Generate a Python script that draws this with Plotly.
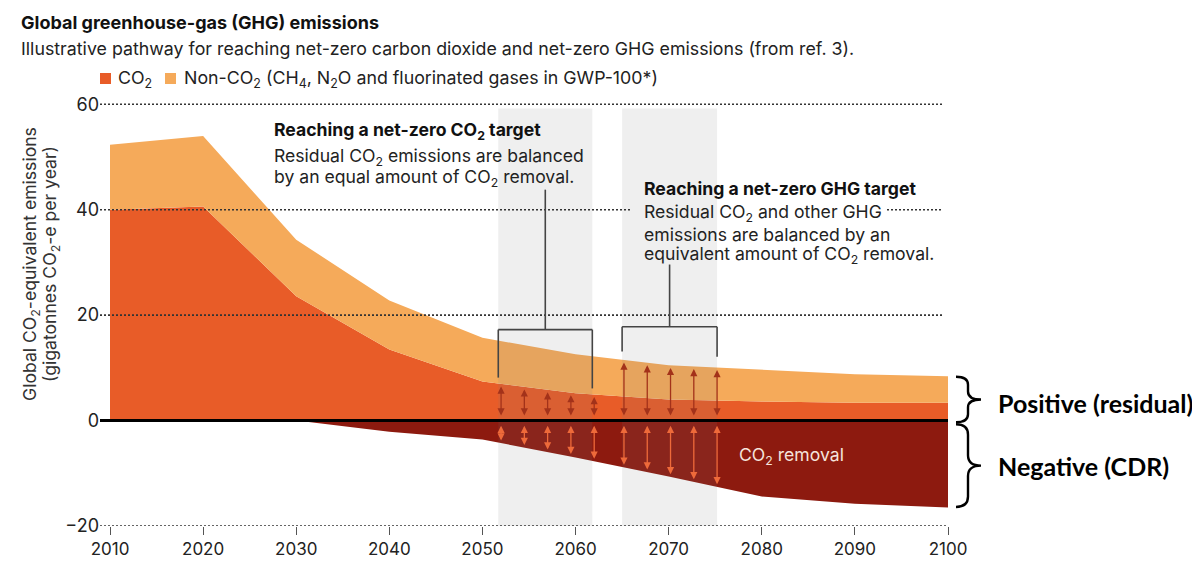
import numpy as np
import plotly.graph_objects as go

# ---------------- data ----------------
years = [2010, 2020, 2030, 2040, 2050, 2060, 2070, 2080, 2090, 2100]
co2_residual = [40.0, 40.6, 23.6, 13.5, 7.4, 5.2, 4.0, 3.6, 3.4, 3.4]
non_co2 = [12.3, 13.4, 10.7, 9.3, 8.3, 7.4, 6.5, 6.1, 5.4, 5.0]
co2_removal = [0.0, 0.0, 0.0, -2.1, -3.6, -7.0, -10.6, -14.4, -15.8, -16.5]

band_start = [2051.7, 2065.0]
band_end = [2061.8, 2075.2]
arrow_years_co2 = [2052.0, 2054.5, 2057.0, 2059.5, 2062.0]
arrow_years_ghg = [2065.2, 2067.7, 2070.2, 2072.7, 2075.2]

x_ticks = [2010, 2020, 2030, 2040, 2050, 2060, 2070, 2080, 2090, 2100]
y_ticks = [-20, 0, 20, 40, 60]

total = [a + b for a, b in zip(co2_residual, non_co2)]

# ---------------- style ----------------
ORANGE = "#e85c28"
LIGHT = "#f5aa5a"
DARK = "#8d1a0f"
ARROW_UP = "#a3321a"
ARROW_DN = "#ee6a3a"
FONT = "Inter"

XMIN, XMAX = 2008.926, 2100.0
YMIN, YMAX = -20.0, 61.0
OFF = 8  # page body margin
W, H = 1200, 574
# plot area in screen pixels: left 100, right 948, top 99, bottom 526
ML, MR, MT, MB = 100 - OFF, W - (948 - OFF), 99 - OFF, H - (526 - OFF)
PW, PH = W - ML - MR, H - MT - MB


def px_x(p):
    return (p - OFF - ML) / PW


def px_y(p):
    return (H - MB - (p - OFF)) / PH


def dy_paper(v):
    return (v - YMIN) / (YMAX - YMIN)


fig = go.Figure()
fig.add_trace(go.Scatter(x=years, y=co2_residual, mode="lines", line=dict(width=0),
                         fill="tozeroy", fillcolor=ORANGE, name="CO2", showlegend=False,
                         hoverinfo="skip"))
fig.add_trace(go.Scatter(x=years, y=total, mode="lines", line=dict(width=0),
                         fill="tonexty", fillcolor=LIGHT, name="Non-CO2", showlegend=False,
                         hoverinfo="skip"))
fig.add_trace(go.Scatter(x=years, y=co2_removal, mode="lines", line=dict(width=0),
                         fill="tozeroy", fillcolor=DARK, name="CO2 removal", showlegend=False,
                         hoverinfo="skip"))

shapes = []
# grey bands
for s, e in zip(band_start, band_end):
    shapes.append(dict(type="rect", xref="x", yref="y", x0=s, x1=e, y0=-20, y1=59.2,
                       fillcolor="rgba(120,120,120,0.12)", line=dict(width=0), layer="above"))

# dotted gridlines
DOT = dict(color="#333333", width=1.6, dash="2px,2px")
grid_segments = [(60, XMIN, 2099.4), (20, XMIN, 2099.4), (-20, XMIN, 2100.0),
                 (40, XMIN, 2065.85), (40, 2093.45, 2099.4)]
for yv, xa, xb in grid_segments:
    shapes.append(dict(type="line", xref="x", yref="y", x0=xa, x1=xb, y0=yv, y1=yv,
                       line=DOT, layer="above"))
# zero line
shapes.append(dict(type="line", xref="x", yref="y", x0=XMIN, x1=2100, y0=0, y1=0,
                   line=dict(color="black", width=3), layer="above"))

# brackets
BR = dict(color="#444444", width=1.6)
bracket_specs = [
    # (y of bar, left leg bottom, right leg bottom, stem top)
    (17.25, 8.15, 6.1, 43.8),
    (17.8, 13.1, 12.1, 29.6),
]
for (s, e), (yb, yl, yr, yt) in zip(zip(band_start, band_end), bracket_specs):
    mid = (s + e) / 2
    shapes.append(dict(type="line", xref="x", yref="y", x0=s, x1=e, y0=yb, y1=yb, line=BR))
    shapes.append(dict(type="line", xref="x", yref="y", x0=s, x1=s, y0=yb, y1=yl, line=BR))
    shapes.append(dict(type="line", xref="x", yref="y", x0=e, x1=e, y0=yb, y1=yr, line=BR))
    shapes.append(dict(type="line", xref="x", yref="y", x0=mid, x1=mid, y0=yb, y1=yt, line=BR))

# legend swatches
shapes.append(dict(type="rect", xref="paper", yref="paper", x0=px_x(100), x1=px_x(111),
                   y0=px_y(84), y1=px_y(73), fillcolor=ORANGE, line=dict(width=0)))
shapes.append(dict(type="rect", xref="paper", yref="paper", x0=px_x(165), x1=px_x(176),
                   y0=px_y(84), y1=px_y(73), fillcolor=LIGHT, line=dict(width=0)))


# curly braces on the right
def brace_path(xl, xs, xt, ytop, ybot, r):
    ymid = (ytop + ybot) / 2
    return (f"M {xl},{ytop} Q {xs},{ytop} {xs},{ytop - r} "
            f"L {xs},{ymid + r} Q {xs},{ymid} {xt},{ymid} "
            f"Q {xs},{ymid} {xs},{ymid - r} "
            f"L {xs},{ybot + r} Q {xs},{ybot} {xl},{ybot}")


xl, xs, xt = px_x(956), px_x(968), px_x(981)
b1_top, b1_bot = dy_paper(total[-1] - 0.1), dy_paper(-0.3)
b2_top, b2_bot = dy_paper(-0.7), dy_paper(co2_removal[-1] + 0.1)
rr = 8 / PH
shapes.append(dict(type="path", xref="paper", yref="paper",
                   path=brace_path(xl, xs, xt, b1_top, b1_bot, rr),
                   line=dict(color="black", width=2.4)))
shapes.append(dict(type="path", xref="paper", yref="paper",
                   path=brace_path(xl, xs, xt, b2_top, b2_bot, rr * 1.3),
                   line=dict(color="black", width=2.4)))

ann = []


def text_at(x_px, y_px, text, size, color="#222222", family=FONT, anchor="left", angle=0):
    ann.append(dict(xref="paper", yref="paper", x=px_x(x_px), y=px_y(y_px), xanchor=anchor,
                    yanchor="middle", text=text, showarrow=False, textangle=angle,
                    font=dict(family=family, size=size, color=color)))


# title and subtitle
text_at(19, 22, "<b>Global greenhouse-gas (GHG) emissions</b>", 18, "#111111")
text_at(19, 48, "Illustrative pathway for reaching net-zero carbon dioxide and net-zero GHG emissions (from ref. 3).",
        17.8, "#222222")
# legend text
text_at(116, 79, "CO<sub>2</sub>", 17.8)
text_at(182, 79, "Non-CO<sub>2</sub> (CH<sub>4</sub>, N<sub>2</sub>O and fluorinated gases in GWP-100*)", 17.8)
# y axis title (two rotated lines)
text_at(31, 264, "Global CO<sub>2</sub>-equivalent emissions", 17.6, "#333333", anchor="center", angle=-90)
text_at(51, 264, "(gigatonnes CO<sub>2</sub>-e per year)", 17.6, "#333333", anchor="center", angle=-90)

# callout 1
text_at(272, 131, "<b>Reaching a net-zero CO<sub>2</sub> target</b>", 17.6, "#111111")
text_at(272, 157, "Residual CO<sub>2</sub> emissions are balanced", 17.6)
text_at(272, 178, "by an equal amount of CO<sub>2</sub> removal.", 17.6)
# callout 2
text_at(642, 188, "<b>Reaching a net-zero GHG target</b>", 17.6, "#111111")
text_at(642, 213, "Residual CO<sub>2</sub> and other GHG", 17.6)
text_at(642, 234, "emissions are balanced by an", 17.6)
text_at(642, 255, "equivalent amount of CO<sub>2</sub> removal.", 17.6)
# removal label
ann.append(dict(xref="x", yref="y", x=2083.2, y=-6.8, xanchor="center", yanchor="middle",
                text="CO<sub>2</sub> removal", showarrow=False,
                font=dict(family=FONT, size=17.6, color="#f6e4dc")))

# right-hand labels
text_at(996, 403, "<b>Positive (residual)</b>", 25, "black", family="Lato")
text_at(996, 466, "<b>Negative (CDR)</b>", 25, "black", family="Lato")


# double-headed arrows
def add_arrow(xv, y_from, y_to, color):
    ann.append(dict(xref="x", yref="y", axref="x", ayref="y", x=xv, y=y_to, ax=xv, ay=y_from,
                    text="", showarrow=True, arrowhead=2, arrowside="end+start",
                    arrowsize=1.1, arrowwidth=1.3, arrowcolor=color, standoff=0, startstandoff=0))


for xv in arrow_years_co2:
    top = float(np.interp(xv, years, co2_residual))
    bot = float(np.interp(xv, years, co2_removal))
    add_arrow(xv, 0.7, top - 0.5, ARROW_UP)
    add_arrow(xv, -0.7, bot + 0.5, ARROW_DN)
for xv in arrow_years_ghg:
    top = float(np.interp(xv, years, total))
    bot = float(np.interp(xv, years, co2_removal))
    add_arrow(xv, 0.7, top - 0.5, ARROW_UP)
    add_arrow(xv, -0.7, bot + 0.5, ARROW_DN)

fig.update_layout(
    width=W, height=H,
    margin=dict(l=ML, r=MR, t=MT, b=MB),
    paper_bgcolor="white", plot_bgcolor="white",
    showlegend=False,
    shapes=shapes, annotations=ann,
    font=dict(family=FONT, color="#222222"),
    xaxis=dict(range=[XMIN, XMAX], tickvals=x_ticks, ticktext=[str(v) for v in x_ticks],
               showgrid=False, zeroline=False, showline=False,
               ticks="outside", ticklen=8, tickwidth=1, tickcolor="#555555",
               tickfont=dict(family=FONT, size=17, color="#222222")),
    yaxis=dict(range=[YMIN, YMAX], tickvals=y_ticks, ticktext=["\u221220", "0", "20", "40", "60"],
               showgrid=False, zeroline=False, showline=False, ticks="",
               tickfont=dict(family=FONT, size=18, color="#222222")),
)

fig.write_html("out.html")
